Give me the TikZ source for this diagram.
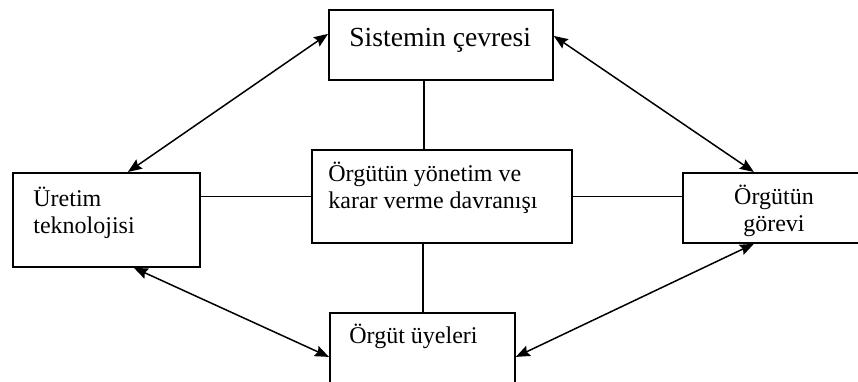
\documentclass[tikz,border=0pt]{standalone}
\usepackage{fontspec}
\setmainfont{Liberation Serif}
\usetikzlibrary{arrows.meta}
\begin{document}
\begin{tikzpicture}[x=0.5pt,y=-0.5pt,
    kutu/.style={draw, line width=0.9pt, anchor=north west, inner sep=0pt},
    yazi/.style={anchor=base west, inner sep=0pt, font=\fontsize{12}{14}\selectfont},
    ok/.style={<->, >={Stealth[length=7pt,width=5.5pt,inset=1pt]}, line width=0.75pt},
    cizgi/.style={line width=0.9pt}]
    \useasboundingbox (0,0) rectangle (858,381);
    % kutular
    \node[kutu, minimum width=112pt, minimum height=35pt] (cevre) at (328,9) {};
    \node[kutu, minimum width=93.5pt, minimum height=47pt] (uretim) at (12,172) {};
    \node[kutu, minimum width=130pt, minimum height=46.5pt] (yonetim) at (311,149) {};
    \node[kutu, minimum width=92pt, minimum height=35pt] (gorev) at (682,172) {};
    \node[kutu, minimum width=92.5pt, minimum height=44pt] (uye) at (329,312) {};
    % yazilar
    \node[yazi, font=\fontsize{13.8}{16}\selectfont] (cevre-y) at (349,46) {Sistemin çevresi};
    \node[yazi] (uretim-y1) at (33,206) {Üretim};
    \node[yazi] (uretim-y2) at (33,233) {teknolojisi};
    \node[yazi] (yonetim-y1) at (328,181) {Örgütün yönetim ve};
    \node[yazi] (yonetim-y2) at (328,208) {karar verme davranışı};
    \node[yazi, anchor=base] (gorev-y1) at (774,204) {Örgütün};
    \node[yazi, anchor=base] (gorev-y2) at (774,231) {görevi};
    \node[yazi] (uye-y) at (349,343) {Örgüt üyeleri};
    % duz cizgiler
    \draw[cizgi] ([xshift=-9pt]yonetim.north) -- ([xshift=-9pt]yonetim.north |- cevre.south);
    \draw[cizgi] ([xshift=-9.5pt]yonetim.south) -- ([xshift=-9.5pt]yonetim.south |- uye.north);
    \draw[cizgi] (uretim.east |- yonetim.west) -- (yonetim.west);
    \draw[cizgi] (yonetim.east) -- (gorev.west |- yonetim.east);
    % oklar
    \draw[ok] ([yshift=5.5pt]cevre.west) -- ([xshift=10.75pt]uretim.north);
    \draw[ok] ([yshift=4.5pt]cevre.east) -- ([xshift=-10.5pt]gorev.north);
    \draw[ok] ([xshift=13.75pt]uretim.south) -- (uye.west);
    \draw[ok] (uye.east) -- ([xshift=-10.5pt]gorev.south);
\end{tikzpicture}
\end{document}
